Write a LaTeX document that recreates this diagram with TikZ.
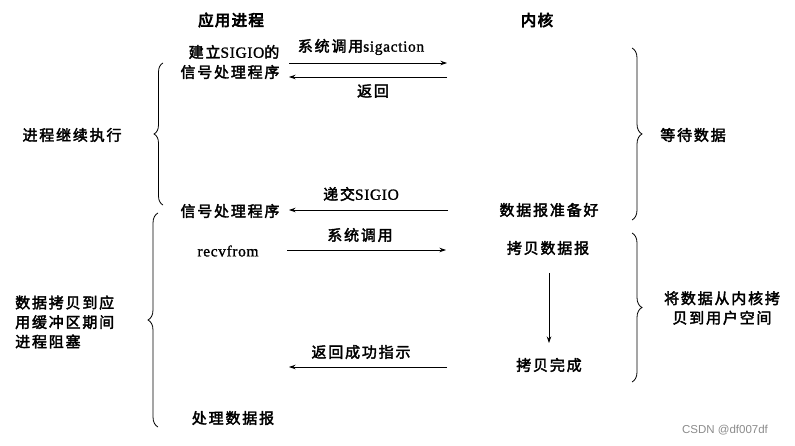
\documentclass[tikz,border=0pt]{standalone}
\usepackage{fontspec}
\usetikzlibrary{decorations.pathreplacing,arrows.meta}
\newfontfamily\cjkfam[LetterSpace=12,FakeBold=2.5]{Noto Sans CJK SC}
\newfontfamily\cjkhead[LetterSpace=8,FakeBold=4.5]{Noto Sans CJK SC}
\newfontfamily\latfam[LetterSpace=4,FakeBold=1.2]{Liberation Serif}
\newfontfamily\wmfam{Liberation Sans}
\newcommand{\ztxt}{\cjkfam\fontsize{15}{19.5}\selectfont}
\newcommand{\zhead}{\cjkhead\fontsize{15.5}{19}\selectfont}
\newcommand{\lt}[1]{{\latfam\fontsize{15.5}{19}\selectfont #1}}
\tikzset{
  txt/.style={font=\ztxt, inner sep=0pt},
  head/.style={font=\zhead, inner sep=0pt},
  arr/.style={line width=0.8pt, -{Stealth[length=6.5pt,width=4.5pt]}},
  brc/.style={line width=0.8pt, decorate},
}
\begin{document}
\begin{tikzpicture}[x=1pt,y=-1pt]
\useasboundingbox[fill=white] (0,0) rectangle (795,446);
% headers
\node[head] (hproc) at (231,20) {应用进程};
\node[head] (hkern) at (537,20) {内核};
% top left texts
\node[txt] (setup1) at (234,52) {建立\lt{SIGIO}的};
\node[txt] (setup2) at (230,72) {信号处理程序};
% sigaction arrows
\coordinate (a1s) at (289,63);
\coordinate (a1e) at (447,63);
\draw[arr] (a1s) -- (a1e);
\node[txt] (l1) at (361,47) {系统调用\lt{sigaction}};
\coordinate (a2s) at (447,77);
\coordinate (a2e) at (289,77);
\draw[arr] (a2s) -- (a2e);
\node[txt] (l2) at (373,91) {返回};
% left brace 1
\coordinate (b1t) at (163,63);
\coordinate (b1b) at (163,205);
\draw[brc, decoration={brace,amplitude=9pt}] (b1b) -- (b1t);
\node[txt] (cont) at (72,135) {进程继续执行};
% right brace 1
\coordinate (rb1t) at (632,48);
\coordinate (rb1b) at (632,220);
\draw[brc, decoration={brace,amplitude=10pt}] (rb1t) -- (rb1b);
\node[txt] (wait) at (693,135) {等待数据};
% SIGIO delivery
\node[txt] (handler) at (230,211) {信号处理程序};
\node[txt] (ready) at (549,210) {数据报准备好};
\coordinate (a3s) at (448,210);
\coordinate (a3e) at (289,210);
\draw[arr] (a3s) -- (a3e);
\node[txt] (l3) at (361,194) {递交\lt{SIGIO}};
% recvfrom
\node[txt] (recv) at (228,251) {\lt{recvfrom}};
\node[txt] (copy) at (548,248) {拷贝数据报};
\coordinate (a4s) at (287,250);
\coordinate (a4e) at (446,250);
\draw[arr] (a4s) -- (a4e);
\node[txt] (l4) at (360,235) {系统调用};
% down arrow
\coordinate (d1) at (549,273);
\coordinate (d2) at (549,343);
\draw[arr] (d1) -- (d2);
\node[txt] (done) at (549,365) {拷贝完成};
% return success
\coordinate (a5s) at (447,367);
\coordinate (a5e) at (289,367);
\draw[arr] (a5s) -- (a5e);
\node[txt] (l5) at (361,352) {返回成功指示};
\node[txt] (proc) at (233,418) {处理数据报};
% left brace 2
\coordinate (b2t) at (158,213);
\coordinate (b2b) at (158,427);
\draw[brc, decoration={brace,amplitude=10pt}] (b2b) -- (b2t);
\node[txt, align=left, anchor=west] (block) at (15,322) {数据拷贝到应\\用缓冲区期间\\进程阻塞};
% right brace 2
\coordinate (rb2t) at (632,233);
\coordinate (rb2b) at (632,382);
\draw[brc, decoration={brace,amplitude=10pt}] (rb2t) -- (rb2b);
\node[txt, align=center] (copyk) at (722,308) {将数据从内核拷\\贝到用户空间};
% watermark
\node[inner sep=0pt, font=\wmfam\fontsize{11.5}{13}\selectfont, text=black!45] (wm) at (725,430) {CSDN @df007df};
\end{tikzpicture}
\end{document}
